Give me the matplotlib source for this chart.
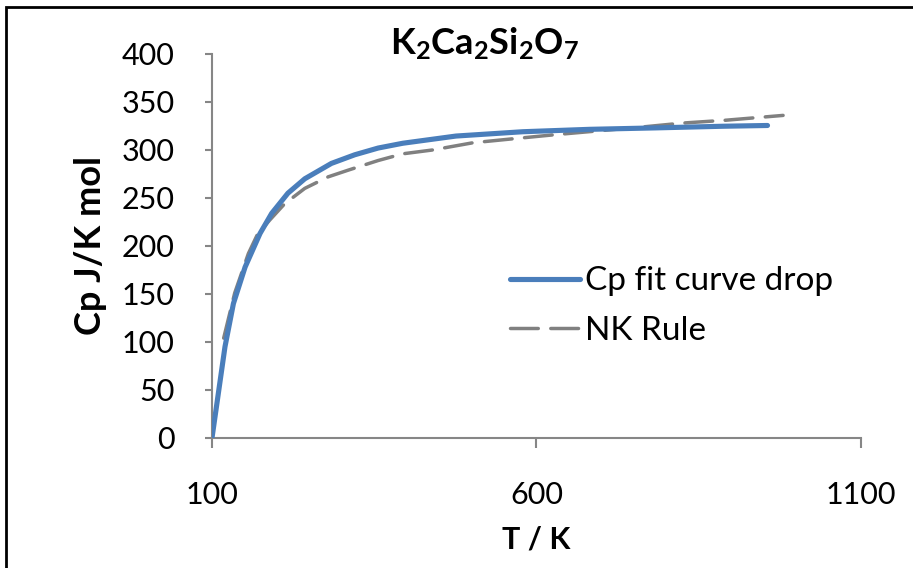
import matplotlib
matplotlib.use("Agg")
import matplotlib.pyplot as plt
from matplotlib.patches import Rectangle

plt.rcParams['font.family'] = ['Lato', 'DejaVu Sans']
plt.rcParams['mathtext.fontset'] = 'custom'
plt.rcParams['mathtext.rm'] = 'Lato'
plt.rcParams['mathtext.bf'] = 'Lato:bold'

# Heat capacity of K2Ca2Si2O7: fitted curve and Neumann-Kopp estimate
fit_T = [100, 120, 133, 151, 174, 192, 217, 243, 284, 320, 356, 394,
         476, 579, 682, 784, 887, 956]
fit_cp = [0, 95, 140, 178, 213, 234, 255, 270, 286, 295, 302, 307,
          314.5, 319, 321.5, 323, 324.7, 325.5]

nk_T = [118, 135, 156, 170, 189, 212, 243, 279, 310, 356, 394, 440,
        502, 569, 630, 697, 764, 825, 892, 980]
nk_cp = [104, 151, 192, 212, 227, 244, 260, 272, 279, 289, 296, 300,
         307.5, 312, 316, 320, 324, 328, 331, 336]

x_ticks = [100, 600, 1100]
y_ticks = [0, 50, 100, 150, 200, 250, 300, 350, 400]

blue = '#4a7ebb'
grey = '#808080'
axis_grey = '#868686'

fig = plt.figure(figsize=(9.13, 5.68), dpi=100)
ax = fig.add_axes([0.2322, 0.2289, 0.9430 - 0.2322, 0.905 - 0.2289])

ax.plot(fit_T, fit_cp, color=blue, lw=3.7, solid_capstyle='round',
        solid_joinstyle='round', label='Cp fit curve drop', zorder=3)
ax.plot(nk_T, nk_cp, color=grey, lw=2.5, dashes=(8, 3.6),
        dash_capstyle='round', label='NK Rule', zorder=2)

ax.set_xlim(100, 1100)
ax.set_ylim(0, 400)
ax.set_xticks(x_ticks)
ax.set_yticks(y_ticks)

for s in ['top', 'right']:
    ax.spines[s].set_visible(False)
for s in ['left', 'bottom']:
    ax.spines[s].set_color(axis_grey)
    ax.spines[s].set_linewidth(1.5)

ax.tick_params(axis='y', direction='out', length=5, width=1.5, color=axis_grey,
               labelsize=22, pad=22)
ax.tick_params(axis='x', direction='out', length=7, width=1.5, color=axis_grey,
               labelsize=22, pad=24)

ax.set_xlabel('T / K', fontsize=22, fontweight='bold', labelpad=12)
ax.set_ylabel('Cp J/K mol', fontsize=26, fontweight='bold', labelpad=10)

fig.text(0.531, 0.923, r'$\mathbf{K_2Ca_2Si_2O_7}$', fontsize=26,
         ha='center', va='center')

ax.legend(loc='upper left', bbox_to_anchor=(0.439, 0.482), frameon=False,
          fontsize=24, handlelength=2.1, handletextpad=0.15,
          labelspacing=0.58, borderaxespad=0)

# Chart border
fig.patches.append(Rectangle((6 / 913, -0.1), 1.2, (568 - 7) / 568 + 0.1,
                             transform=fig.transFigure, fill=False,
                             edgecolor='black', linewidth=2))

fig.savefig('out.png', dpi=100)
